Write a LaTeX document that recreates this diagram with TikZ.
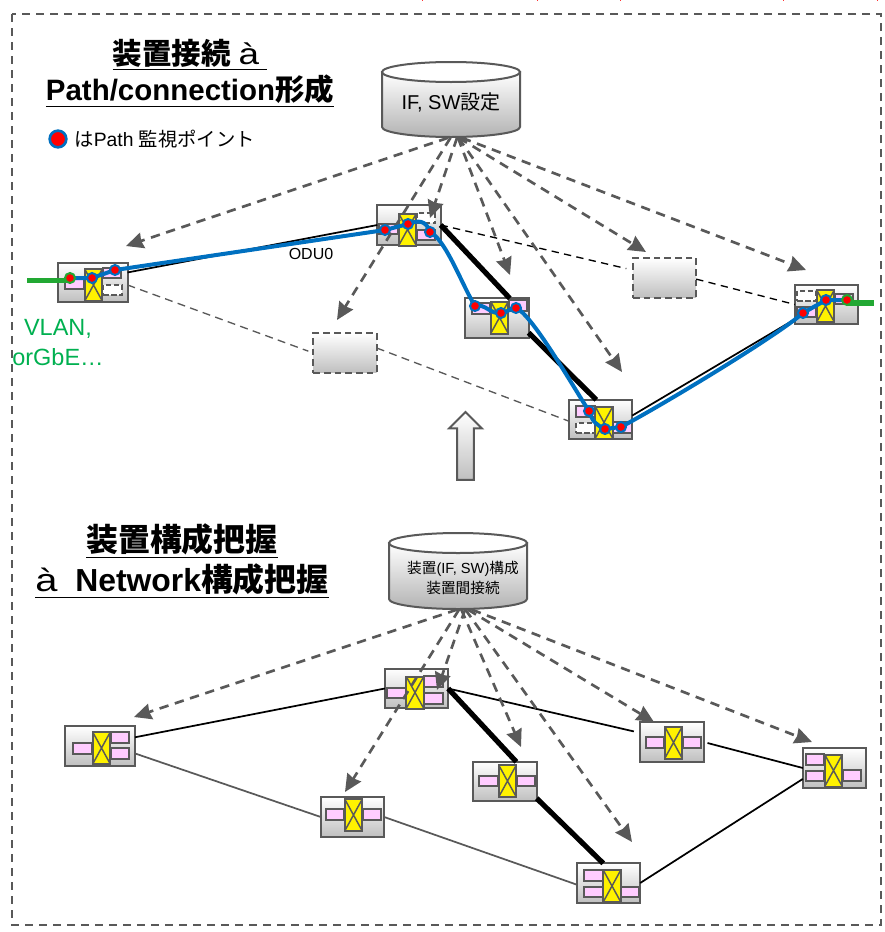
\documentclass[tikz,border=0pt]{standalone}
\usepackage{fontspec}
\setmainfont{Liberation Sans}
\newfontfamily\cjk{Noto Sans CJK JP}
\usetikzlibrary{arrows.meta,shapes.arrows}
\pgfdeclarelayer{front}
\pgfsetlayers{main,front}
\definecolor{linegray}{RGB}{89,89,89}
\definecolor{portpink}{RGB}{255,204,255}
\definecolor{pathblue}{RGB}{0,112,192}
\definecolor{txtgreen}{RGB}{0,176,80}
\definecolor{linegreen}{RGB}{34,168,51}
\tikzset{every picture/.style={line width=0.75pt}}
\tikzset{
  devbox/.style={draw=linegray,line width=1.5pt,top color=white,bottom color=black!25,minimum width=47.5pt,minimum height=29.5pt,inner sep=0pt,outer sep=0pt},
  devwide/.style={devbox,minimum width=52.5pt},
  slotbox/.style={devbox,dash pattern=on 5pt off 3pt},
  portbox/.style={draw=linegray,line width=1.5pt,fill=portpink,minimum width=14pt,minimum height=7.8pt,inner sep=0pt,outer sep=0pt},
  portfree/.style={portbox,fill=white,dash pattern=on 4pt off 2pt},
  swbox/.style={draw=linegray,line width=1.5pt,fill=yellow,minimum width=13.2pt,minimum height=24pt,inner sep=0pt,outer sep=0pt,
    path picture={\draw[linegray,line width=1.1pt] (path picture bounding box.north west) -- (path picture bounding box.south east)
      (path picture bounding box.north east) -- (path picture bounding box.south west);}},
  dbody/.style={draw=linegray,line width=1.5pt,top color=white,bottom color=black!30},
  dbtop/.style={draw=linegray,line width=1.5pt,fill=white},
  dbase/.style={minimum width=103.5pt,minimum height=57.5pt,inner sep=0pt,outer sep=0pt},
  monpt/.style={circle,draw=pathblue,line width=1.5pt,fill=red,minimum size=7.5pt,inner sep=0pt,outer sep=0pt},
  monend/.style={monpt,draw=linegreen},
  setarrow/.style={draw=linegray,line width=2pt,dash pattern=on 7pt off 5pt,-{Stealth[length=13pt,width=12pt,inset=1pt]}},
  link/.style={black,line width=1.3pt},
  linkthick/.style={black,line width=3.9pt},
  linkgray/.style={linegray,line width=1.3pt},
  linkdash/.style={black,line width=1pt,dash pattern=on 5.5pt off 4pt},
  linkdashgray/.style={linegray,line width=1pt,dash pattern=on 6pt off 4pt},
  pathline/.style={pathblue,line width=3pt,line cap=round,line join=round},
  clientline/.style={linegreen,line width=3.8pt}
}
\begin{document}
\begin{tikzpicture}[x=0.75pt,y=0.75pt,yscale=-1,xscale=1]
\useasboundingbox (0,0) rectangle (885,932);

%Shape: Outer frame
\draw [linegray,line width=1.1pt,dash pattern=on 6pt off 4.5pt] (12,14) rectangle (881,925);
%Stray marks at the top edge
\draw [red!80,line width=0.75pt] (422,0) -- (422,1) (537,0) -- (537,1) (620,0) -- (620,1) (783,0) -- (783,1) (877,0) -- (877,1);

% Text Node
\node [align=center,font=\fontsize{22.1}{27}\selectfont\bfseries] (titletop) at (190,73) {\underline{{\cjk 装置接続} {\mdseries\scalebox{1.25}[1]{à}}\ }\\\underline{Path/connection{\cjk 形成}}};
\node [align=center,font=\fontsize{23.9}{30}\selectfont\bfseries] (titlebot) at (182,561) {\underline{{\cjk 装置構成把握}}\\\underline{{\mdseries\scalebox{1.25}[1]{à}}\ \ Network{\cjk 構成把握}}};
\node [monpt,minimum size=12.5pt,line width=2pt] (legdot) at (58,139) {};
\node [anchor=west,inner sep=0pt,font=\fontsize{14.5}{17}\selectfont] (legtxt) at (74,139) {{\cjk は}Path {\cjk 監視ポイント}};
\node [font=\fontsize{12}{14}\selectfont] (lblodu) at (311,254) {ODU0};
\node [align=center,text=txtgreen,font=\fontsize{17.6}{22.5}\selectfont] (lblclient) at (58,343) {VLAN,\\orGbE…};

%Shape: Can
\draw [dbody] (382,72) -- (382,127) arc [start angle=180,end angle=0,x radius=69,y radius=10] -- (520,72) -- cycle;
\draw [dbtop] (451,72) ellipse [x radius=69,y radius=10];
\node [dbase] (cfgdb) at (451,99.5) {};
\node [font=\fontsize{15}{18}\selectfont] (cfgtxt) at (451,102) {IF, SW{\cjk 設定}};
\draw [dbody] (389,543) -- (389,599) arc [start angle=180,end angle=0,x radius=69,y radius=10] -- (527,543) -- cycle;
\draw [dbtop] (458,543) ellipse [x radius=69,y radius=10];
\node [dbase,minimum height=58pt] (infodb) at (458,571) {};
\node [align=center,font=\fontsize{11}{14.5}\selectfont] (infotxt) at (463,578) {{\cjk 装置}(IF, SW){\cjk 構成}\\{\cjk 装置間接続}};

%Shape: Up arrow
\node [single arrow,shape border rotate=90,anchor=tip,draw=linegray,line width=1.5pt,top color=white,bottom color=black!25,shading angle=0,minimum height=51pt,inner sep=5.5pt,single arrow head extend=6pt,single arrow tip angle=90] (uparrow) at (465.5,410.5) {};

%Shape: Upper devices
\node [devwide] (devA) at (92.5,282.5) {};
\node [portbox] (pA1) at (74.5,284) {};
\node [portbox] (pA2) at (112,273) {};
\node [portfree] (pA3) at (112.5,290) {};
\node [swbox] (sA) at (93.5,285) {};

\node [devbox] (devB) at (409,225) {};
\node [portbox] (pB1) at (388.5,229) {};
\node [portfree] (pB2) at (426,218) {};
\node [portbox] (pB3) at (426,235) {};
\node [swbox] (sB) at (407.5,229.5) {};

\node [devbox] (devC) at (497,318) {};
\node [portbox] (pC1) at (481,308.5) {};
\node [portbox] (pC2) at (518,305.5) {};
\node [swbox] (sC) at (499.5,317.5) {};

\node [devbox] (devD) at (600.5,419.5) {};
\node [portbox] (pD1) at (585.5,411.5) {};
\node [portfree] (pD2) at (585.5,428) {};
\node [portbox] (pD3) at (622.5,427.5) {};
\node [swbox] (sD) at (604,422.5) {};

\node [devbox] (devE) at (826.5,304.5) {};
\node [portfree] (pE1) at (806.5,296) {};
\node [portbox] (pE2) at (806.5,312) {};
\node [portbox] (pE3) at (844,299) {};
\node [swbox] (sE) at (825.5,306) {};

%Shape: Unused slots
\node [slotbox] (slotF) at (664.5,278) {};
\node [slotbox] (slotG) at (345,353) {};

%Shape: Lower devices
\node [devwide] (devH) at (100,746) {};
\node [portbox] (pH1) at (82.5,748.5) {};
\node [portbox] (pH2) at (120,737.5) {};
\node [portbox] (pH3) at (120,753.5) {};
\node [swbox] (sH) at (101.5,748) {};

\node [devbox] (devI) at (416.5,688.5) {};
\node [portbox] (pI1) at (396.5,693) {};
\node [portbox] (pI2) at (433.5,681.5) {};
\node [portbox] (pI3) at (433.5,698.5) {};
\node [swbox] (sI) at (415,692.5) {};

\node [devbox] (devJ) at (352.5,817) {};
\node [portbox] (pJ1) at (335,814.5) {};
\node [portbox] (pJ2) at (372,814.5) {};
\node [swbox] (sJ) at (353.5,815) {};

\node [devbox] (devK) at (505,781.5) {};
\node [portbox] (pK1) at (488.5,781) {};
\node [portbox] (pK2) at (526,781) {};
\node [swbox] (sK) at (507.5,781) {};

\node [devbox] (devL) at (672,742) {};
\node [portbox] (pL1) at (655,742.5) {};
\node [portbox] (pL2) at (692,742.5) {};
\node [swbox] (sL) at (673.5,742.5) {};

\node [devbox] (devM) at (834.5,768) {};
\node [portbox] (pM1) at (815,759.5) {};
\node [portbox] (pM2) at (815,776) {};
\node [portbox] (pM3) at (852,775.5) {};
\node [swbox] (sM) at (833.5,770.5) {};

\node [devbox] (devN) at (608.5,883) {};
\node [portbox] (pN1) at (593.5,875.5) {};
\node [portbox] (pN2) at (593.5,892) {};
\node [portbox] (pN3) at (630,892) {};
\node [swbox] (sN) at (612,886) {};

%Straight Lines: upper links
\draw [link] (devA.16) -- (devB.west);
\draw [linkthick] (devB.east) -- (devC.57);
\draw [linkthick] (devC.-25) -- (devD.102);
\draw [link] (devD.7) -- (devE.205);
\draw [linkdash,shorten >=5pt] (devB.east) -- (slotF.166);
\draw [linkdash] (slotF.-2) -- (devE.west);
\draw [linkdashgray,shorten >=4pt] (devA.-4) -- (slotG.west);
\draw [linkdashgray] (slotG.9) -- (devD.183);

%Straight Lines: lower links
\draw [link] (devH.14) -- (devI.west);
\draw [linkgray] (devH.-12) -- (devJ.west);
\draw [linkgray] (devJ.east) -- (devN.183);
\draw [link,shorten >=5pt] (devI.east) -- (devL.164);
\draw [link,shorten <=3pt] (devL.east) -- (devM.west);
\draw [linkthick] (devI.east) -- (devK.60);
\draw [linkthick] (devK.-28) -- (devN.105);
\draw [link] (devN.east) -- (devM.199);

%Arrow ends
\coordinate (tipA) at (126,246);
\coordinate (tipB) at (430,218);
\coordinate (tipC) at (510,275);
\coordinate (tipD) at (622,372);
\coordinate (tipE) at (806,270);
\coordinate (tipF) at (646,252);
\coordinate (tipG) at (337,320);
\coordinate (tipH) at (134,717);
\coordinate (tipI) at (437,690);
\coordinate (tipJ) at (345,792);
\coordinate (tipK) at (521,747);
\coordinate (tipL) at (654,722);
\coordinate (tipM) at (812,742);
\coordinate (tipN) at (632,842);

%Straight Lines: settings sent out
\draw [setarrow] ([xshift=-2.25pt]cfgdb.south) -- (tipA);
\draw [setarrow] ([xshift=4.5pt]cfgdb.south) -- (tipB);
\draw [setarrow] ([xshift=5.25pt]cfgdb.south) -- (tipC);
\draw [setarrow] ([xshift=5.7pt]cfgdb.south) -- (tipD);
\draw [setarrow] ([xshift=8.25pt]cfgdb.south) -- (tipE);
\draw [setarrow] ([xshift=6pt]cfgdb.south) -- (tipF);
\draw [setarrow] ([xshift=-0.4pt]cfgdb.south) -- (tipG);

%Straight Lines: configuration read back
\draw [setarrow] ([xshift=-0.75pt]infodb.south) -- (tipH);
\draw [setarrow] ([xshift=5.25pt]infodb.south) -- (tipI);
\draw [setarrow] ([xshift=0.75pt]infodb.south) -- (tipJ);
\draw [setarrow] ([xshift=2.5pt]infodb.south) -- (tipK);
\draw [setarrow] ([xshift=7.5pt]infodb.south) -- (tipL);
\draw [setarrow] ([xshift=10.5pt]infodb.south) -- (tipM);
\draw [setarrow] ([xshift=5.6pt]infodb.south) -- (tipN);

%Shape: Monitor points
\begin{pgfonlayer}{front}
\node [monend] (mA1) at (70,278) {};
\node [monpt] (mA2) at (92,278) {};
\node [monpt] (mA3) at (115,270) {};
\node [monpt] (mB1) at (385,230) {};
\node [monpt] (mB2) at (408,224) {};
\node [monpt] (mB3) at (430,232) {};
\node [monpt] (mC1) at (475,306) {};
\node [monpt] (mC2) at (501,313) {};
\node [monpt] (mC3) at (516,308) {};
\node [monpt] (mD1) at (589,411) {};
\node [monpt] (mD2) at (605,429) {};
\node [monpt] (mD3) at (621,427) {};
\node [monpt] (mE1) at (803,313) {};
\node [monpt] (mE2) at (826,300) {};
\node [monend] (mE3) at (847,300) {};
\end{pgfonlayer}

%Straight Lines: client side
\coordinate (cliL) at (27,280.5);
\coordinate (cliR) at (874,303);
\draw [clientline] (cliL) -- (mA1.center |- cliL);
\draw [clientline] (mE3.center |- cliR) -- (cliR);

%Curve Lines: monitored path
\draw [pathline] (mA1.center) -- (mA2.center) -- (mA3.center) -- (mB1.center) -- (mB2.center)
  .. controls +(10,-4) and +(-4,-12) .. (mB3.center)
  .. controls +(16,8) and +(-13,-21) .. (mC1.center)
  .. controls +(10,-3) and +(-10,2) .. (mC2.center)
  .. controls +(5,0) and +(-5,0) .. (mC3.center)
  .. controls +(16,6) and +(-14,-21) .. (mD1.center)
  .. controls +(4,12) and +(-8,-4) .. (mD2.center)
  -- (mD3.center)
  .. controls +(50,-27) and +(-25,22) .. (mE1.center)
  -- (mE2.center) -- (mE3.center);

\end{tikzpicture}
\end{document}
